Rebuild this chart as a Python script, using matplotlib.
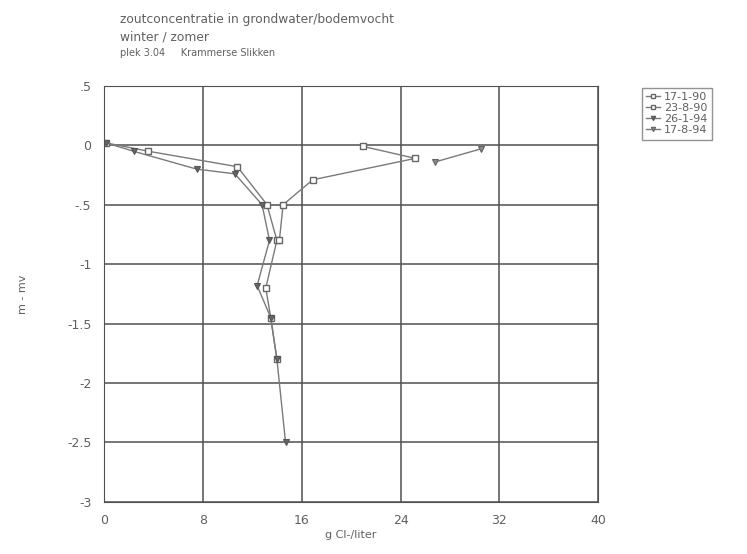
import matplotlib.pyplot as plt

# depth (m - mv) and chloride (g Cl-/liter) per sampling date
dates = ['17-1-90', '23-8-90', '26-1-94', '17-8-94']

cl_170190 = [0.2, 3.6, 10.8, 13.2, 14.0, 13.1, 13.5, 14.0]
z_170190 = [0.02, -0.05, -0.18, -0.5, -0.8, -1.2, -1.45, -1.8]

cl_230890 = [21.0, 25.2, 16.9, 14.5, 14.2]
z_230890 = [-0.01, -0.11, -0.29, -0.5, -0.8]

cl_260194 = [0.2, 2.4, 7.5, 10.6, 12.8, 13.4, 12.4, 13.5, 14.0, 14.7]
z_260194 = [0.02, -0.05, -0.2, -0.24, -0.5, -0.8, -1.18, -1.45, -1.8, -2.5]

cl_170894 = [30.5, 26.8]
z_170894 = [-0.03, -0.14]

xticks = [0, 8, 16, 24, 32, 40]
yticks = [0.5, 0, -0.5, -1, -1.5, -2, -2.5, -3]
ytick_labels = ['.5', '0', '-.5', '-1', '-1.5', '-2', '-2.5', '-3']

txt = '#606060'
line_c = '#7a7a7a'

fig = plt.figure(figsize=(7.47, 5.54), dpi=100)
ax = fig.add_axes([0.139, 0.094, 0.662, 0.751])

ax.plot(cl_170190, z_170190, color=line_c, lw=1, marker='s', ms=5,
        mfc='white', mec='#666666', mew=1, label=dates[0])
ax.plot(cl_230890, z_230890, color=line_c, lw=1, marker='s', ms=5,
        mfc='white', mec='#666666', mew=1, label=dates[1])
ax.plot(cl_260194, z_260194, color=line_c, lw=1, marker='v', ms=4.5,
        mfc='#666666', mec='#555555', mew=0.8, label=dates[2])
ax.plot(cl_170894, z_170894, color=line_c, lw=1, marker='v', ms=4.5,
        mfc='#888888', mec='#666666', mew=0.8, label=dates[3])

ax.set_xlim(0, 40)
ax.set_ylim(-3, 0.5)
ax.set_xticks(xticks)
ax.set_yticks(yticks)
ax.set_yticklabels(ytick_labels)
ax.grid(True, color='#505050', lw=1.1)
for s in ax.spines.values():
    s.set_color('#505050')
ax.tick_params(colors=txt, labelsize=9, length=0, pad=9)

ax.set_xlabel('g Cl-/liter', color=txt, fontsize=8, labelpad=2)
ax.set_ylabel('m - mv', color=txt, fontsize=8, labelpad=28)

fig.text(0.161, 0.965, 'zoutconcentratie in grondwater/bodemvocht',
         color=txt, fontsize=8.8, va='center')
fig.text(0.161, 0.934, 'winter / zomer', color=txt, fontsize=8.8, va='center')
fig.text(0.161, 0.904, 'plek 3.04     Krammerse Slikken',
         color=txt, fontsize=7, va='center')

leg = fig.legend(loc='upper left', bbox_to_anchor=(0.852, 0.852),
                 fontsize=8, frameon=True, fancybox=False, edgecolor='#777777',
                 handlelength=1.2, handletextpad=0.4, labelspacing=0.1,
                 borderpad=0.4, markerscale=0.7)
for t in leg.get_texts():
    t.set_color(txt)

fig.savefig('out.png', dpi=100)
